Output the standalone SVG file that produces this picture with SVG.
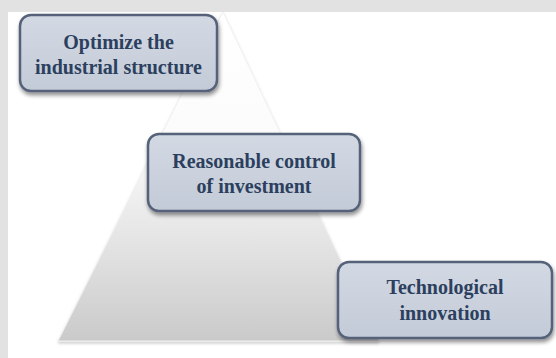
<svg xmlns="http://www.w3.org/2000/svg" width="556" height="358" viewBox="0 0 556 358">
  <defs>
    <linearGradient id="pyr" x1="0" y1="0" x2="0" y2="1">
      <stop offset="0" stop-color="#ffffff"/>
      <stop offset="0.4" stop-color="#fbfbfb"/>
      <stop offset="0.7" stop-color="#e4e4e4"/>
      <stop offset="1" stop-color="#cacaca"/>
    </linearGradient>
    <linearGradient id="box" x1="0" y1="0" x2="0" y2="1">
      <stop offset="0" stop-color="#d3d9e3"/>
      <stop offset="1" stop-color="#c3cbd8"/>
    </linearGradient>
    <filter id="sh" x="-10%" y="-10%" width="125%" height="140%">
      <feGaussianBlur in="SourceAlpha" stdDeviation="2"/>
      <feOffset dx="1" dy="3" result="b"/>
      <feComponentTransfer><feFuncA type="linear" slope="0.45"/></feComponentTransfer>
      <feMerge><feMergeNode/><feMergeNode in="SourceGraphic"/></feMerge>
    </filter>
    <filter id="psh" x="-5%" y="-5%" width="110%" height="115%">
      <feGaussianBlur in="SourceAlpha" stdDeviation="1.5"/>
      <feOffset dx="0" dy="2"/>
      <feComponentTransfer><feFuncA type="linear" slope="0.2"/></feComponentTransfer>
      <feMerge><feMergeNode/><feMergeNode in="SourceGraphic"/></feMerge>
    </filter>
    <style>
      .node rect { fill: url(#box); stroke: #56627a; stroke-width: 2.5; filter: url(#sh); }
      .node text { font-family: "Liberation Serif", "Times New Roman", serif; font-weight: bold; font-size: 20px; fill: #2c3f5e; text-anchor: middle; }
    </style>
  </defs>
  <rect x="0" y="0" width="556" height="358" fill="#e2e2e2"/>
  <rect x="8" y="12" width="548" height="346" fill="#ffffff"/>
  <g id="pyramid">
    <polygon points="223,12 379,341 58,341" fill="url(#pyr)" stroke="#f0f0f0" stroke-width="1" filter="url(#psh)"/>
  </g>
  <g id="connectors"/>
  <g id="node-optimize" class="node">
    <rect x="20" y="15" width="197" height="76" rx="11"/>
    <text x="118.5" y="49">Optimize the</text>
    <text x="118.5" y="74">industrial structure</text>
  </g>
  <g id="node-investment" class="node">
    <rect x="148" y="134" width="212" height="77" rx="11"/>
    <text x="254" y="168">Reasonable control</text>
    <text x="254" y="193">of investment</text>
  </g>
  <g id="node-technology" class="node">
    <rect x="338" y="262" width="214" height="76" rx="11"/>
    <text x="445" y="294">Technological</text>
    <text x="445" y="320">innovation</text>
  </g>
</svg>
